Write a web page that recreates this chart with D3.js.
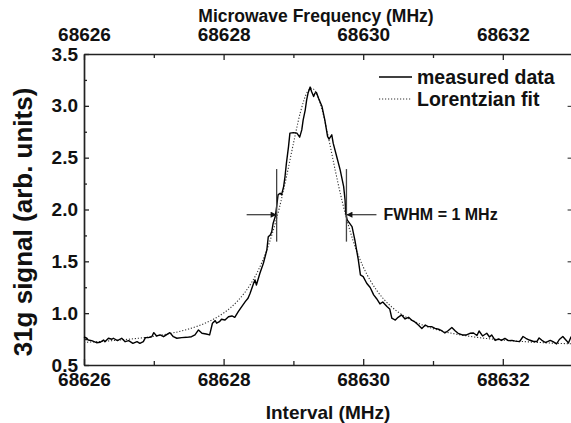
<!DOCTYPE html>
<html>
<head>
<meta charset="utf-8">
<script src="https://cdn.jsdelivr.net/npm/d3@7"></script>
<style>
  html, body { margin: 0; padding: 0; background: #fff; }
  svg { display: block; font-family: "Liberation Sans", Arial, Helvetica, sans-serif; font-weight: bold; }
</style>
</head>
<body>
<svg id="chart" width="571" height="423"></svg>
<script>
// Measured 31g signal versus microwave frequency (MHz)
const measuredFreq = [
  68626.00, 68626.04, 68626.06, 68626.11, 68626.18, 68626.23, 68626.28, 68626.30, 68626.35, 68626.40,
  68626.42, 68626.48, 68626.54, 68626.59, 68626.64, 68626.70, 68626.76, 68626.80, 68626.85, 68626.88,
  68626.92, 68626.97, 68627.00, 68627.04, 68627.09, 68627.14, 68627.19, 68627.23, 68627.28, 68627.33,
  68627.40, 68627.47, 68627.54, 68627.59, 68627.64, 68627.69, 68627.75, 68627.80, 68627.84, 68627.88,
  68627.90, 68627.94, 68627.97, 68628.02, 68628.07, 68628.12, 68628.16, 68628.21, 68628.26, 68628.31,
  68628.35, 68628.38, 68628.43, 68628.45, 68628.47, 68628.52, 68628.57, 68628.62, 68628.64, 68628.67,
  68628.69, 68628.71, 68628.74, 68628.76, 68628.78, 68628.81, 68628.83, 68628.86, 68628.88, 68628.90,
  68628.93, 68628.95, 68629.00, 68629.05, 68629.09, 68629.12, 68629.14, 68629.17, 68629.19, 68629.21,
  68629.24, 68629.26, 68629.29, 68629.31, 68629.33, 68629.36, 68629.41, 68629.45, 68629.49, 68629.51,
  68629.55, 68629.57, 68629.62, 68629.67, 68629.72, 68629.74, 68629.75, 68629.77, 68629.84, 68629.88,
  68629.93, 68629.96, 68630.00, 68630.05, 68630.10, 68630.15, 68630.19, 68630.24, 68630.28, 68630.34,
  68630.38, 68630.41, 68630.46, 68630.50, 68630.55, 68630.60, 68630.65, 68630.70, 68630.74, 68630.79,
  68630.84, 68630.89, 68630.93, 68630.98, 68631.03, 68631.08, 68631.13, 68631.17, 68631.22, 68631.27,
  68631.32, 68631.36, 68631.42, 68631.48, 68631.53, 68631.58, 68631.63, 68631.66, 68631.71, 68631.77,
  68631.81, 68631.84, 68631.89, 68631.94, 68631.98, 68632.03, 68632.08, 68632.13, 68632.18, 68632.24,
  68632.29, 68632.33, 68632.38, 68632.44, 68632.49, 68632.52, 68632.56, 68632.61, 68632.64, 68632.68,
  68632.72, 68632.77, 68632.81, 68632.86, 68632.91, 68632.94, 68632.98
];
const measuredSignal = [
  0.770, 0.758, 0.741, 0.735, 0.715, 0.719, 0.741, 0.725, 0.758, 0.748,
  0.758, 0.735, 0.758, 0.725, 0.735, 0.709, 0.725, 0.709, 0.725, 0.764,
  0.764, 0.773, 0.812, 0.780, 0.790, 0.773, 0.796, 0.812, 0.773, 0.758,
  0.764, 0.767, 0.773, 0.790, 0.838, 0.806, 0.799, 0.790, 0.903, 0.928,
  0.903, 0.918, 0.941, 0.934, 0.966, 0.973, 0.960, 1.015, 1.063, 1.111,
  1.144, 1.192, 1.289, 1.321, 1.272, 1.385, 1.482, 1.610, 1.738, 1.755,
  1.787, 1.868, 1.932, 2.028, 2.141, 2.157, 2.141, 2.221, 2.318, 2.447,
  2.607, 2.737, 2.742, 2.737, 2.698, 2.768, 2.865, 2.962, 3.058, 3.123,
  3.181, 3.138, 3.090, 3.123, 3.129, 3.074, 2.993, 2.865, 2.704, 2.679,
  2.720, 2.640, 2.511, 2.382, 2.221, 2.093, 1.964, 1.900, 1.835, 1.707,
  1.514, 1.369, 1.352, 1.289, 1.248, 1.176, 1.142, 1.089, 1.108, 1.065,
  1.041, 0.951, 0.934, 0.960, 0.983, 0.944, 0.960, 0.930, 0.915, 0.886,
  0.852, 0.886, 0.870, 0.870, 0.854, 0.845, 0.828, 0.809, 0.833, 0.862,
  0.828, 0.806, 0.790, 0.790, 0.806, 0.809, 0.785, 0.828, 0.780, 0.806,
  0.770, 0.790, 0.737, 0.751, 0.737, 0.756, 0.735, 0.737, 0.730, 0.725,
  0.775, 0.758, 0.741, 0.727, 0.727, 0.761, 0.738, 0.717, 0.725, 0.737,
  0.725, 0.703, 0.746, 0.775, 0.737, 0.712, 0.775
];

// Lorentzian fit, tabulated
const fitFreq = [
  68626.0, 68626.5, 68627.0, 68627.25, 68627.5, 68627.75, 68628.0, 68628.1, 68628.2, 68628.3,
  68628.4, 68628.5, 68628.6, 68628.7, 68628.8, 68628.9, 68629.0, 68629.1, 68629.2, 68629.26,
  68629.3, 68629.4, 68629.5, 68629.6, 68629.7, 68629.8, 68629.9, 68630.0, 68630.1, 68630.2,
  68630.3, 68630.4, 68630.5, 68630.6, 68630.75, 68631.0, 68631.5, 68632.0, 68632.5, 68633.0
];
const fitSignal = [
  0.718, 0.740, 0.777, 0.806, 0.847, 0.908, 1.001, 1.053, 1.117, 1.196,
  1.294, 1.418, 1.575, 1.773, 2.019, 2.313, 2.636, 2.937, 3.134, 3.170,
  3.154, 2.988, 2.700, 2.376, 2.075, 1.819, 1.611, 1.447, 1.317, 1.214,
  1.131, 1.065, 1.011, 0.967, 0.914, 0.851, 0.779, 0.741, 0.718, 0.704
];

// Axis ticks
const freqTicks = [68626, 68628, 68630, 68632];
const freqMinorTicks = [68627, 68629, 68631, 68633];
const signalTicks = [0.5, 1.0, 1.5, 2.0, 2.5, 3.0, 3.5];
const signalMinorTicks = [0.75, 1.25, 1.75, 2.25, 2.75, 3.25];

// Full width at half maximum marker: edges in MHz, half-maximum level, and bar extent
const fwhmEdges = [68628.76, 68629.76];
const fwhmLevel = 1.95;
const fwhmBar = [1.69, 2.39];

const svg = d3.select("#chart");
const plot = { left: 84, right: 572.6, top: 54, bottom: 365 };

const x = d3.scaleLinear().domain([68626, 68633]).range([plot.left, plot.right]);
const y = d3.scaleLinear().domain([0.5, 3.5]).range([plot.bottom, plot.top]);

const ink = "#111";

function styleAxis(g, fontSize) {
  g.select(".domain").attr("stroke", "#222").attr("stroke-width", 1.7);
  g.selectAll(".tick line").attr("stroke", "#222").attr("stroke-width", 1.3);
  g.selectAll(".tick text")
    .attr("fill", ink)
    .style("font-size", fontSize + "px")
    .style("font-weight", "bold")
    .style("font-family", "'Liberation Sans', Arial, sans-serif");
}

function minorTicks(g) {
  g.select(".domain").remove();
  g.selectAll("line").attr("stroke", "#222").attr("stroke-width", 1.3);
}

// Bottom axis
const gBottom = svg.append("g").attr("transform", `translate(0,${plot.bottom})`)
  .call(d3.axisBottom(x).tickValues(freqTicks).tickFormat(d3.format("d"))
        .tickSize(-6).tickSizeOuter(0).tickPadding(8));
styleAxis(gBottom, 19);
svg.append("g").attr("transform", `translate(0,${plot.bottom})`)
  .call(d3.axisBottom(x).tickValues(freqMinorTicks).tickFormat("").tickSize(-4).tickSizeOuter(0))
  .call(minorTicks);

// Top axis
const gTop = svg.append("g").attr("transform", `translate(0,${plot.top})`)
  .call(d3.axisTop(x).tickValues(freqTicks).tickFormat(d3.format("d"))
        .tickSize(-6).tickSizeOuter(0).tickPadding(13));
styleAxis(gTop, 19);
svg.append("g").attr("transform", `translate(0,${plot.top})`)
  .call(d3.axisTop(x).tickValues(freqMinorTicks).tickFormat("").tickSize(-4).tickSizeOuter(0))
  .call(minorTicks);

// Left axis
const gLeft = svg.append("g").attr("transform", `translate(${plot.left},0)`)
  .call(d3.axisLeft(y).tickValues(signalTicks).tickFormat(d3.format(".1f"))
        .tickSize(-5).tickSizeOuter(0).tickPadding(6));
styleAxis(gLeft, 19);
svg.append("g").attr("transform", `translate(${plot.left},0)`)
  .call(d3.axisLeft(y).tickValues(signalMinorTicks).tickFormat("").tickSize(-3).tickSizeOuter(0))
  .call(minorTicks);

// Right axis (frame edge)
svg.append("g").attr("transform", `translate(${plot.right},0)`)
  .call(d3.axisRight(y).tickValues(signalTicks).tickFormat("").tickSize(-5).tickSizeOuter(0))
  .call(g => { g.select(".domain").attr("stroke", "#222").attr("stroke-width", 1.7); g.selectAll("line").attr("stroke", "#222"); });

// Axis titles
svg.append("text")
  .attr("x", 316).attr("y", 22)
  .attr("text-anchor", "middle").attr("fill", ink)
  .style("font-size", "17.5px")
  .text("Microwave Frequency (MHz)");

svg.append("text")
  .attr("x", 328).attr("y", 419)
  .attr("text-anchor", "middle").attr("fill", ink)
  .style("font-size", "19px")
  .text("Interval (MHz)");

svg.append("text")
  .attr("transform", "translate(32,222) rotate(-90)")
  .attr("text-anchor", "middle").attr("fill", ink)
  .style("font-size", "26px")
  .text("31g signal (arb. units)");

// Lorentzian fit (dotted)
const fitPoints = fitFreq.map((f, i) => [f, fitSignal[i]]);
svg.append("path")
  .datum(fitPoints)
  .attr("fill", "none")
  .attr("stroke", "#333")
  .attr("stroke-width", 1.1)
  .attr("stroke-dasharray", "1.2,1.8")
  .attr("d", d3.line().x(d => x(d[0])).y(d => y(d[1])).curve(d3.curveMonotoneX));

// Measured data (solid)
const measuredPoints = measuredFreq.map((f, i) => [f, measuredSignal[i]]);
svg.append("path")
  .datum(measuredPoints)
  .attr("fill", "none")
  .attr("stroke", "#000")
  .attr("stroke-width", 1.4)
  .attr("stroke-linejoin", "round")
  .attr("d", d3.line().x(d => x(d[0])).y(d => y(d[1])));

// FWHM marker
const defs = svg.append("defs");
defs.append("marker")
  .attr("id", "arrowHead")
  .attr("viewBox", "0 0 10 10")
  .attr("refX", 10).attr("refY", 5)
  .attr("markerWidth", 8).attr("markerHeight", 6)
  .attr("markerUnits", "userSpaceOnUse")
  .attr("orient", "auto")
  .append("path").attr("d", "M0,0 L10,5 L0,10 Z").attr("fill", "#111");

const fwhmG = svg.append("g");
fwhmEdges.forEach(f => {
  fwhmG.append("line")
    .attr("x1", x(f)).attr("x2", x(f))
    .attr("y1", y(fwhmBar[1])).attr("y2", y(fwhmBar[0]))
    .attr("stroke", "#444").attr("stroke-width", 1.3);
});
fwhmG.append("line")
  .attr("x1", x(fwhmEdges[0]) - 30).attr("x2", x(fwhmEdges[0]))
  .attr("y1", y(fwhmLevel)).attr("y2", y(fwhmLevel))
  .attr("stroke", "#444").attr("stroke-width", 1.3)
  .attr("marker-end", "url(#arrowHead)");
fwhmG.append("line")
  .attr("x1", x(fwhmEdges[1]) + 30).attr("x2", x(fwhmEdges[1]))
  .attr("y1", y(fwhmLevel)).attr("y2", y(fwhmLevel))
  .attr("stroke", "#444").attr("stroke-width", 1.3)
  .attr("marker-end", "url(#arrowHead)");
fwhmG.append("text")
  .attr("x", x(fwhmEdges[1]) + 37).attr("y", y(fwhmLevel) + 5.5)
  .attr("fill", ink).style("font-size", "16px")
  .text("FWHM = 1 MHz");

// Legend
const legend = svg.append("g").attr("transform", "translate(379,77)");
legend.append("line").attr("x1", 0).attr("x2", 33).attr("y1", 0).attr("y2", 0)
  .attr("stroke", "#000").attr("stroke-width", 1.4);
legend.append("text").attr("x", 38).attr("y", 7).attr("fill", ink)
  .style("font-size", "19.5px").text("measured data");
legend.append("line").attr("x1", 0).attr("x2", 33).attr("y1", 22).attr("y2", 22)
  .attr("stroke", "#333").attr("stroke-width", 1.1).attr("stroke-dasharray", "1.2,1.8");
legend.append("text").attr("x", 38).attr("y", 29).attr("fill", ink)
  .style("font-size", "19.5px").text("Lorentzian fit");
</script>
</body>
</html>
